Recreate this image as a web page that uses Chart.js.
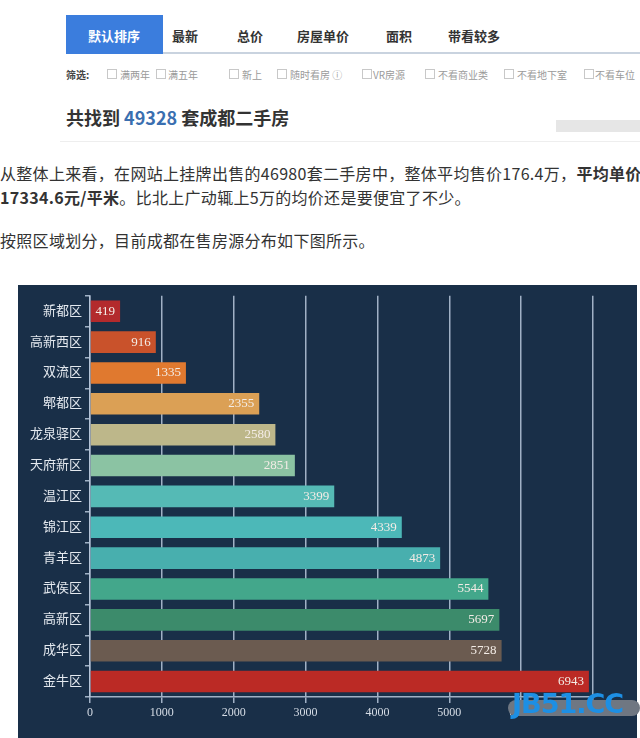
<!DOCTYPE html>
<html>
<head>
<meta charset="utf-8">
<script src="https://cdn.jsdelivr.net/npm/chart.js@4/dist/chart.umd.min.js"></script>
<style>
    body { margin: 0; width: 640px; height: 738px; background: #fff; position: relative; overflow: hidden;
           font-family: "Noto Sans CJK SC", "Noto Sans", sans-serif; color: #333; }
    .abs { position: absolute; white-space: nowrap; }
    #tabBar { left: 66px; top: 52px; width: 574px; height: 2px; background: #c9d3df; }
    #tabOn { left: 66px; top: 15px; width: 97px; height: 39px; background: #3b7ddd; }
    .tab { top: 26px; font-size: 13px; font-weight: bold; color: #333; transform: translateX(-50%); }
    .filt { top: 67px; font-size: 10px; color: #9a9a9a; }
    .box { top: 69px; width: 8px; height: 8px; border: 1px solid #c8c8c8; }
    #found { left: 66px; top: 104px; font-size: 18px; font-weight: bold; color: #333; }
    #found span { color: #3a6fb0; }
    .para { left: 0; font-size: 16px; line-height: 24px; color: #333; letter-spacing: 0.3px; }
    #panel { left: 18px; top: 285px; width: 619px; height: 453px; background: #192f48; }
    #wm { left: 512px; top: 688px; font-size: 27px; font-weight: bold; color: #1d8fe4; font-family: "DejaVu Sans", sans-serif; letter-spacing: -1px; }
    #wmBack { left: 508px; top: 700px; width: 132px; height: 16px; background: #6f7782; border-radius: 8px; }
</style>
</head>
<body>

<!-- entete du site -->
<div class="abs" id="tabBar"></div>
<div class="abs" id="tabOn"></div>
<div class="abs tab" style="left:114px;color:#fff">默认排序</div>
<div class="abs tab" style="left:185px">最新</div>
<div class="abs tab" style="left:250px">总价</div>
<div class="abs tab" style="left:323px">房屋单价</div>
<div class="abs tab" style="left:399px">面积</div>
<div class="abs tab" style="left:474px">带看较多</div>

<div class="abs filt" style="left:66px;color:#444;font-weight:bold">筛选:</div>
<div class="abs box" style="left:107px"></div><div class="abs filt" style="left:120px">满两年</div>
<div class="abs box" style="left:156px"></div><div class="abs filt" style="left:168px">满五年</div>
<div class="abs box" style="left:229px"></div><div class="abs filt" style="left:242px">新上</div>
<div class="abs box" style="left:277px"></div><div class="abs filt" style="left:290px">随时看房 ⓘ</div>
<div class="abs box" style="left:362px"></div><div class="abs filt" style="left:373px">VR房源</div>
<div class="abs box" style="left:425px"></div><div class="abs filt" style="left:438px">不看商业类</div>
<div class="abs box" style="left:504px"></div><div class="abs filt" style="left:517px">不看地下室</div>
<div class="abs box" style="left:584px"></div><div class="abs filt" style="left:595px">不看车位</div>

<div class="abs" id="found">共找到 <span>49328</span> 套成都二手房</div>
<div class="abs" style="left:556px;top:120px;width:84px;height:12px;background:#e6e6e6"></div>
<div class="abs" style="left:60px;top:141px;width:580px;height:1px;background:#eeeeee"></div>

<div class="abs para" style="top:161px">从整体上来看，在网站上挂牌出售的46980套二手房中，整体平均售价176.4万，<b>平均单价</b><br><b>17334.6元/平米</b>。比北上广动辄上5万的均价还是要便宜了不少。</div>
<div class="abs para" style="top:228px">按照区域划分，目前成都在售房源分布如下图所示。</div>

<div class="abs" id="panel">
    <canvas id="myChart" width="619" height="453"></canvas>
</div>
<div class="abs" id="wmBack"></div>
<div class="abs" id="wm">JB51.CC</div>

<script>
// donnees du graphique
const districts = ['新都区', '高新西区', '双流区', '郫都区', '龙泉驿区', '天府新区', '温江区',
                   '锦江区', '青羊区', '武侯区', '高新区', '成华区', '金牛区'];
const listings = [419, 916, 1335, 2355, 2580, 2851, 3399, 4339, 4873, 5544, 5697, 5728, 6943];
const barColors = ['#b32a2c', '#c9522b', '#e0792f', '#dba055', '#bdb78a', '#8bc3a3', '#55bab5',
                   '#4cb8b8', '#48afae', '#43a78b', '#3c8b6b', '#6b5b50', '#bb2a25'];
const xTicks = [0, 1000, 2000, 3000, 4000, 5000, 6000, 7000];

const chartFont = "'Liberation Serif', 'Noto Sans CJK SC', serif";
const lineColor = 'rgba(185, 200, 220, 0.85)';

// valeurs ecrites dans les barres
const valueLabels = {
    id: 'valueLabels',
    afterDatasetsDraw(chart) {
        const ctx = chart.ctx;
        const meta = chart.getDatasetMeta(0);
        ctx.save();
        ctx.font = '13px ' + chartFont;
        ctx.fillStyle = '#f3ece6';
        ctx.textAlign = 'right';
        ctx.textBaseline = 'middle';
        meta.data.forEach((bar, i) => {
            ctx.fillText(String(listings[i]), bar.x - 5, bar.y);
        });
        ctx.restore();
    }
};

const config = {
    type: 'bar',
    data: {
        labels: districts,
        datasets: [{
            data: listings,
            backgroundColor: barColors,
            borderWidth: 0,
            categoryPercentage: 1,
            barPercentage: 0.7
        }]
    },
    options: {
        indexAxis: 'y',
        responsive: false,
        animation: false,
        layout: { padding: { top: 8, right: 44, left: 0, bottom: 0 } },
        plugins: { legend: { display: false }, tooltip: { enabled: false } },
        scales: {
            x: {
                min: 0,
                max: 7000,
                afterBuildTicks: (scale) => { scale.ticks = xTicks.map(v => ({ value: v })); },
                afterFit: (scale) => { scale.height = 41; },
                ticks: {
                    color: '#d6dde6',
                    font: { family: chartFont, size: 12 },
                    padding: 3,
                    callback: (value) => String(value)
                },
                grid: { color: lineColor, lineWidth: 1.5, tickLength: 6, tickColor: lineColor },
                border: { display: true, color: lineColor, width: 1.5 }
            },
            y: {
                afterFit: (scale) => { scale.width = 72; },
                ticks: { color: '#e4e9ef', font: { family: chartFont, size: 13 }, padding: 3 },
                grid: { drawOnChartArea: false, tickLength: 5, color: lineColor, lineWidth: 1.5 },
                border: { display: true, color: lineColor, width: 1.5 }
            }
        }
    },
    plugins: [valueLabels]
};

window.addEventListener('load', (event) => {
    const myChart = new Chart(document.getElementById('myChart'), config);
});
</script>
</body>
</html>
